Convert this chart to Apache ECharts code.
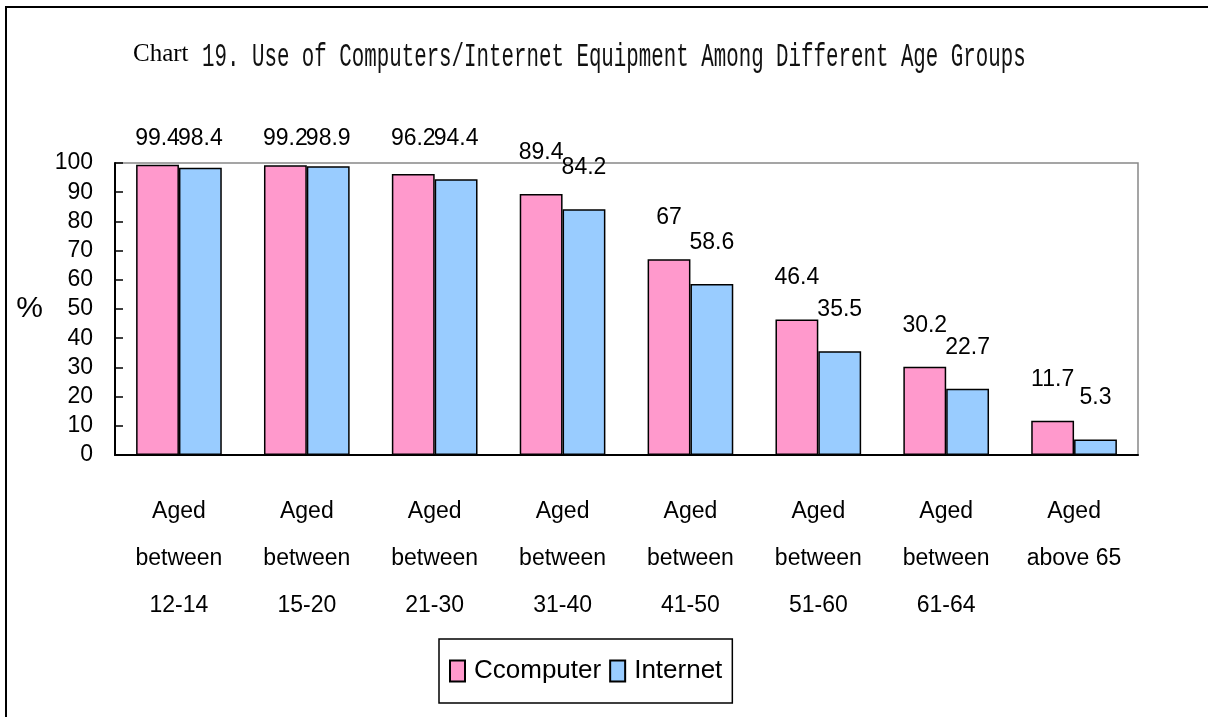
<!DOCTYPE html>
<html>
<head>
    <meta charset="utf-8">
    <title>Chart 19</title>
    <script src="https://cdn.jsdelivr.net/npm/echarts@6/dist/echarts.min.js"></script>
    <style>
        html, body { margin: 0; padding: 0; background: #fff; }
        #chart1 { width: 1208px; height: 717px; }
    </style>
</head>
<body>
<div id="chart1"></div>
<script type="text/javascript">
    // 数据
    var categories = ['Aged\nbetween\n12-14', 'Aged\nbetween\n15-20', 'Aged\nbetween\n21-30', 'Aged\nbetween\n31-40',
        'Aged\nbetween\n41-50', 'Aged\nbetween\n51-60', 'Aged\nbetween\n61-64', 'Aged\nabove 65'];
    var computerData = [99.4, 99.2, 96.2, 89.4, 67, 46.4, 30.2, 11.7];
    var internetData = [98.4, 98.9, 94.4, 84.2, 58.6, 35.5, 22.7, 5.3];
    var seriesNames = ['Ccomputer', 'Internet'];
    var yMin = 0, yMax = 100, yStep = 10;

    var sans = "'Liberation Sans', Arial, sans-serif";

    var myChart1 = echarts.init(document.getElementById('chart1'));

    var barLabel = {
        show: true,
        position: 'top',
        distance: 30,
        color: '#000',
        fontFamily: sans,
        fontSize: 23
    };

    myChart1.setOption({
        animation: false,
        backgroundColor: '#fff',
        graphic: [
            {
                type: 'rect',
                shape: { x: 6, y: 7, width: 1400, height: 900 },
                style: { fill: 'none', stroke: '#000', lineWidth: 2 }
            },
            {
                type: 'text',
                x: 133, y: 54,
                style: { text: 'Chart', font: '25px "Liberation Serif", serif', fill: '#000', verticalAlign: 'middle' }
            },
            {
                type: 'text',
                x: 202, y: 57,
                scaleY: 1.6,
                style: {
                    text: '19. Use of Computers/Internet Equipment Among Different Age Groups',
                    font: '20.8px "Liberation Mono", monospace', fill: '#111', verticalAlign: 'middle'
                }
            }
        ],
        legend: {
            data: seriesNames,
            left: 439,
            top: 639,
            padding: [19, 10, 19, 10],
            itemGap: 8,
            itemWidth: 15,
            itemHeight: 21,
            borderColor: '#000',
            borderWidth: 1.5,
            icon: 'rect',
            textStyle: { color: '#000', fontFamily: sans, fontSize: 26, padding: [0, 0, 0, 4] }
        },
        grid: {
            left: 115,
            right: 70,
            top: 163,
            bottom: 262,
            show: true,
            borderColor: '#888',
            borderWidth: 1.5
        },
        xAxis: {
            type: 'category',
            data: categories,
            axisLine: { lineStyle: { color: '#000', width: 2 } },
            axisTick: { inside: true, length: 12, lineStyle: { color: '#000', width: 1.5 } },
            axisLabel: {
                color: '#000', fontFamily: sans, fontSize: 23, lineHeight: 47, margin: 33, interval: 0
            }
        },
        yAxis: {
            type: 'value',
            min: yMin,
            max: yMax,
            interval: yStep,
            name: '%',
            nameLocation: 'middle',
            nameRotate: 0,
            nameGap: 72,
            nameTextStyle: { color: '#000', fontFamily: sans, fontSize: 30 },
            splitLine: { show: false },
            axisLine: { show: true, lineStyle: { color: '#000', width: 2 } },
            axisTick: { show: true, inside: true, length: 8, lineStyle: { color: '#000', width: 1.5 } },
            axisLabel: { color: '#000', fontFamily: sans, fontSize: 23, margin: 22 }
        },
        // 标签贴近顶部时往下压
        labelLayout: function (params) {
            var bottom = params.labelRect.y + params.labelRect.height;
            if (bottom < 150) {
                return { dy: 150 - bottom };
            }
            return {};
        },
        series: [
            {
                name: seriesNames[0],
                type: 'bar',
                data: computerData,
                barGap: '0%',
                barCategoryGap: '33%',
                itemStyle: { color: '#FF99CC', borderColor: '#000', borderWidth: 1.5 },
                label: barLabel
            },
            {
                name: seriesNames[1],
                type: 'bar',
                data: internetData,
                itemStyle: { color: '#99CCFF', borderColor: '#000', borderWidth: 1.5 },
                label: barLabel
            }
        ]
    });
</script>
</body>
</html>
